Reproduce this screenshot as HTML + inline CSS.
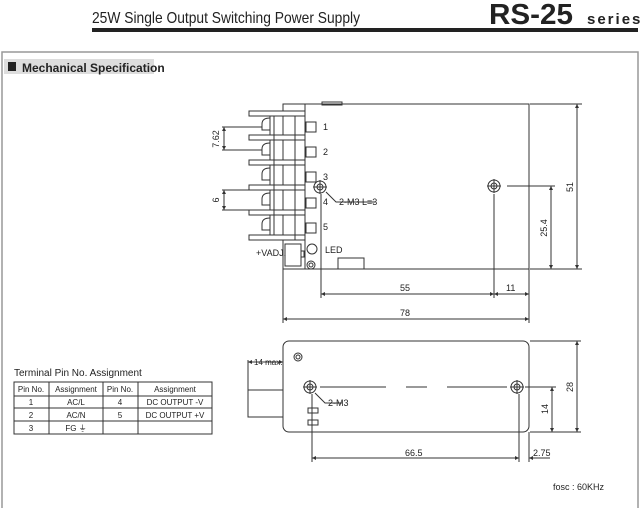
<!DOCTYPE html>
<html><head><meta charset="utf-8"><style>
body{margin:0;background:#fff;width:640px;height:508px;overflow:hidden}
svg{display:block;font-family:"Liberation Sans",sans-serif}
</style></head><body>
<svg width="640" height="508" viewBox="0 0 640 508" xmlns="http://www.w3.org/2000/svg">
<g fill="#222">
<text x="92" y="23" font-size="16" textLength="268" lengthAdjust="spacingAndGlyphs">25W Single Output Switching Power Supply</text>
<text x="489" y="24" font-size="29" font-weight="bold" textLength="84" lengthAdjust="spacingAndGlyphs">RS-25</text>
<text x="587" y="24" font-size="15" font-weight="bold" letter-spacing="2">series</text>
</g>
<rect x="92" y="28" width="546" height="4" fill="#222"/>
<rect x="2" y="52" width="636" height="460" fill="none" stroke="#999" stroke-width="1.5"/>
<rect x="4" y="59" width="150" height="15" fill="#ddd"/>
<rect x="8" y="62" width="8" height="9" fill="#222"/>
<text x="22" y="72" font-size="12" font-weight="bold" fill="#222">Mechanical Specification</text>

<g stroke="#333" stroke-width="1" fill="none">
<!-- top view -->
<path d="M283 104 H529 V269 H283 Z"/>
<rect x="322" y="102" width="20" height="3"/>
<path d="M305 104 V269"/>
<g fill="#fff">
<rect x="249" y="111" width="56" height="5"/><rect x="249" y="135" width="56" height="5"/>
<rect x="249" y="160" width="56" height="5"/><rect x="249" y="185" width="56" height="5"/>
<rect x="249" y="210" width="56" height="5"/><rect x="249" y="235" width="56" height="5"/>
</g>
<path d="M270 116 V135 M270 140 V160 M270 165 V185 M270 190 V210 M270 215 V235"/>
<path d="M274 116 V235 M295 116 V240"/>
<path d="M270 118 q-8 0 -8 6 v6 h8 M270 143 q-8 0 -8 6 v6 h8 M270 168 q-8 0 -8 6 v6 h8 M270 193 q-8 0 -8 6 v6 h8 M270 218 q-8 0 -8 6 v6 h8"/>
<rect x="306" y="122" width="10" height="10"/><rect x="306" y="147" width="10" height="10"/>
<rect x="306" y="172" width="10" height="10"/><rect x="306" y="198" width="10" height="10"/>
<rect x="306" y="223" width="10" height="10"/>
<rect x="285" y="244" width="16" height="22"/>
<rect x="301" y="251" width="3" height="6"/>
<circle cx="312" cy="249" r="5"/><circle cx="311" cy="265" r="4"/><circle cx="311" cy="265" r="2"/>
<path d="M338 269 V258 H364 V269"/>
<circle cx="320" cy="187" r="6"/><circle cx="320" cy="187" r="3"/>
<circle cx="494" cy="186" r="6"/><circle cx="494" cy="186" r="3"/>
<path d="M313 187 H327 M320 180 V194 M487 186 H501 M494 179 V193"/>
<path d="M326 192 L336 202 H375"/>
<!-- dims -->
<path d="M222 127 H262 M222 150 H262 M224 127 V150"/>
<path d="M222 190 H262 M222 210 H262 M224 190 V210"/>
<path d="M530 104 H582 M530 269 H582 M577 104 V269"/>
<path d="M507 186 H555 M551 186 V269"/>
<path d="M321 194 V298 M494 194 V298 M529 269 V323 M321 294 H529"/>
<path d="M283 269 V323 M283 319 H529"/>
<!-- bottom view -->
<rect x="283" y="341" width="246" height="91" rx="6"/>
<rect x="248" y="390" width="35" height="27"/>
<path d="M248 360 V390 M248 362 H283"/>
<circle cx="298" cy="357" r="4"/><circle cx="298" cy="357" r="2"/>
<circle cx="310" cy="387" r="6"/><circle cx="310" cy="387" r="3"/>
<circle cx="517" cy="387" r="6"/><circle cx="517" cy="387" r="3"/>
<path d="M303 387 H317 M310 380 V394 M510 387 H524 M517 380 V394"/>
<path d="M320 387 H386 M406 387 H427 M447 387 H507" />
<path d="M315 393 L325 403 H342"/>
<rect x="308" y="408" width="10" height="5"/><rect x="308" y="420" width="10" height="5"/>
<path d="M530 341 H581 M530 432 H581 M577 341 V432"/>
<path d="M525 387 H556 M552 387 V432"/>
<path d="M312 394 V462 M519 394 V462 M529 432 V462 M312 458 H519 M529 458 H550"/>
<!-- table -->
<rect x="14" y="382" width="198" height="52"/>
<path d="M14 396 H212 M14 408 H212 M14 421 H212 M49 382 V434 M103 382 V434 M138 382 V434"/>
</g>
<g fill="#333">
<path d="M224 127 l-2 4 h4z M224 150 l-2 -4 h4z M224 190 l-2 4 h4z M224 210 l-2 -4 h4z M577 104 l-2 4 h4z M577 269 l-2 -4 h4z M551 186 l-2 4 h4z M551 269 l-2 -4 h4z M321 294 l4 -2 v4z M494 294 l-4 -2 v4z M494 294 l4 -2 v4z M529 294 l-4 -2 v4z M283 319 l4 -2 v4z M529 319 l-4 -2 v4z M577 341 l-2 4 h4z M577 432 l-2 -4 h4z M552 387 l-2 4 h4z M552 432 l-2 -4 h4z M312 458 l4 -2 v4z M519 458 l-4 -2 v4z M529 458 l4 -2 v4z M248 362 l4 -2 v4z M283 362 l-4 -2 v4z"/>
</g>
<g fill="#222" font-size="9">
<text x="323" y="130">1</text><text x="323" y="155">2</text><text x="323" y="180">3</text>
<text x="323" y="205">4</text><text x="323" y="230">5</text>
<text x="339" y="205">2-M3 L=3</text>
<text x="256" y="256">+VADJ.</text><text x="325" y="253">LED</text>
<text x="400" y="291">55</text><text x="506" y="291">11</text><text x="400" y="316">78</text>
<text transform="translate(219 139) rotate(-90)" text-anchor="middle">7.62</text>
<text transform="translate(219 200) rotate(-90)" text-anchor="middle">6</text>
<text transform="translate(573 187) rotate(-90)" text-anchor="middle">51</text>
<text transform="translate(547 228) rotate(-90)" text-anchor="middle">25.4</text>
<text x="254" y="365" font-size="8">14 max.</text>
<text x="328" y="406">2-M3</text>
<text transform="translate(573 387) rotate(-90)" text-anchor="middle">28</text>
<text transform="translate(548 409) rotate(-90)" text-anchor="middle">14</text>
<text x="405" y="456">66.5</text><text x="533" y="456">2.75</text>
<text x="553" y="490">fosc : 60KHz</text>
<text x="14" y="376" font-size="10">Terminal Pin No.  Assignment</text>
<g font-size="8" text-anchor="middle">
<text x="31" y="392">Pin No.</text><text x="76" y="392">Assignment</text><text x="120" y="392">Pin No.</text><text x="175" y="392">Assignment</text>
<text x="31" y="405">1</text><text x="76" y="405">AC/L</text><text x="120" y="405">4</text><text x="175" y="405">DC OUTPUT -V</text>
<text x="31" y="418">2</text><text x="76" y="418">AC/N</text><text x="120" y="418">5</text><text x="175" y="418">DC OUTPUT +V</text>
<text x="31" y="431">3</text><text x="76" y="431">FG ⏚</text>
</g>
</g>
</svg>
</body></html>
